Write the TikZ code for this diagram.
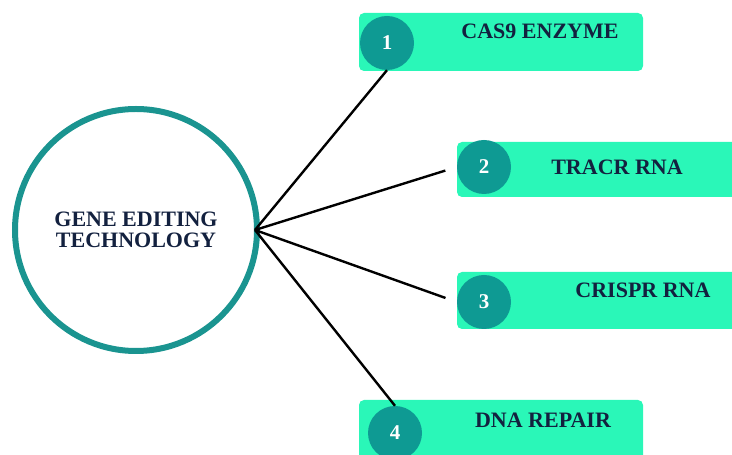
\documentclass[tikz,border=0pt]{standalone}
\usepackage{fontspec}
\setmainfont{Liberation Serif}
\definecolor{mint}{HTML}{2AF7B8}
\definecolor{tealdot}{HTML}{0E9A93}
\definecolor{ringteal}{HTML}{1A9490}
\definecolor{navy}{HTML}{13213F}
\begin{document}
\begin{tikzpicture}[x=1pt,y=1pt,
  itembox/.style={fill=mint,rounded corners=5pt,draw=none,inner sep=0pt},
  numdot/.style={circle,fill=tealdot,draw=none,minimum size=54pt,inner sep=0pt,
    text=white,font=\bfseries\fontsize{21}{21}\selectfont},
  itemtext/.style={text=navy,font=\bfseries\fontsize{22}{22}\selectfont,inner sep=0pt},
  conn/.style={draw=black,line width=2.4pt}]
\useasboundingbox (0,0) rectangle (732,455);
\clip (0,0) rectangle (732,455);
% central circle
\node[circle,draw=ringteal,line width=6pt,fill=white,minimum size=242pt,outer sep=0pt,
  align=center,text=navy,font=\bfseries\fontsize{22}{21}\selectfont,inner sep=0pt]
  (main) at (136,225) {GENE EDITING\\TECHNOLOGY};
\coordinate (hub) at (255,225);
% boxes
\node[itembox,minimum width=284pt,minimum height=58pt] (b1) at (501,413) {};
\node[itembox,minimum width=300pt,minimum height=55pt] (b2) at (607,285.5) {};
\node[itembox,minimum width=300pt,minimum height=57pt] (b3) at (607,154.5) {};
\node[itembox,minimum width=284pt,minimum height=60pt] (b4) at (501,25) {};
% number dots
\node[numdot] (n1) at (387,412) {1};
\node[numdot] (n2) at (484,288) {2};
\node[numdot] (n3) at (484,153) {3};
\node[numdot] (n4) at (395,22) {4};
% texts
\node[itemtext] (t1) at (540,424) {CAS9 ENZYME};
\node[itemtext] (t2) at (617,288) {TRACR RNA};
\node[itemtext] (t3) at (643,165) {CRISPR RNA};
\node[itemtext] (t4) at (543,35) {DNA REPAIR};
% connectors
\draw[conn] (hub) -- (n1.south);
\draw[conn,shorten >=12pt] (hub) -- (n2.west);
\draw[conn,shorten >=12pt] (hub) -- (n3.west);
\draw[conn] (hub) -- (n4.north);
\end{tikzpicture}
\end{document}
